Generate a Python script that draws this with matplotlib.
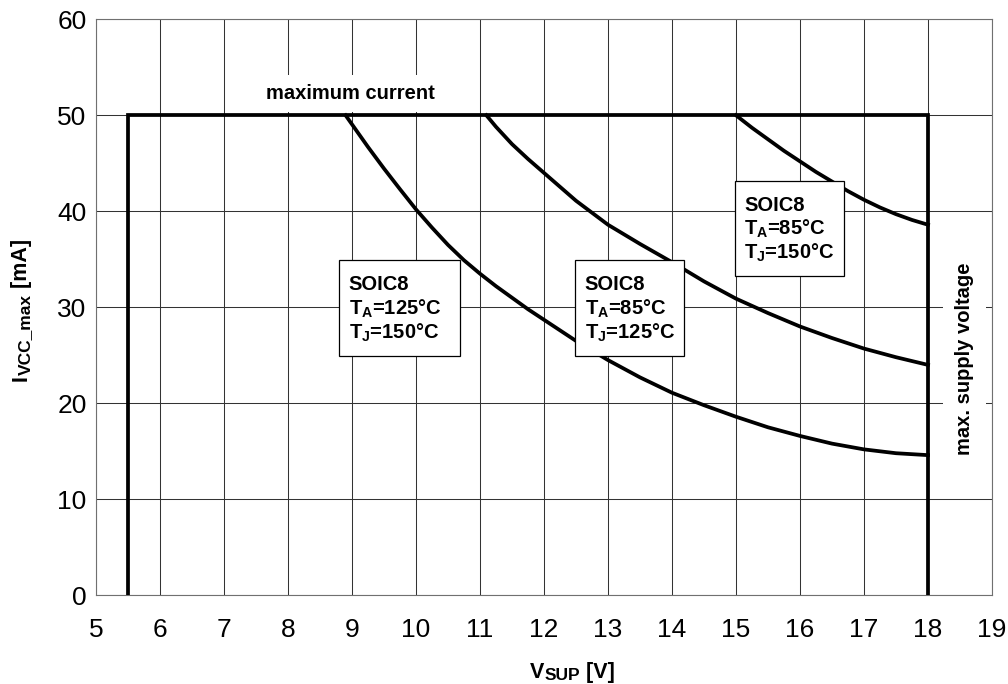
import matplotlib
matplotlib.use("Agg")
import matplotlib.pyplot as plt
from matplotlib.patches import Rectangle
from matplotlib.transforms import IdentityTransform

plt.rcParams['font.family'] = ['Liberation Sans', 'DejaVu Sans']
plt.rcParams['mathtext.fontset'] = 'custom'
plt.rcParams['mathtext.rm'] = 'Liberation Sans'
plt.rcParams['mathtext.bf'] = 'Liberation Sans:bold'

# safe operating envelope
envelope_v = [5.5, 5.5, 18, 18]
envelope_i = [0, 50, 50, 0]

# SOIC8, TA=125C, TJ=150C
curve_a_v = [8.9, 9.25, 9.5, 9.75, 10, 10.25, 10.5, 10.75, 11, 11.25, 11.5, 11.75, 12,
             12.5, 13, 13.5, 14, 14.5, 15, 15.5, 16, 16.5, 17, 17.5, 18]
curve_a_i = [50, 46.7, 44.45, 42.3, 40.2, 38.3, 36.5, 34.9, 33.5, 32.2, 31.0, 29.8, 28.7,
             26.5, 24.5, 22.7, 21.1, 19.8, 18.6, 17.5, 16.6, 15.8, 15.2, 14.8, 14.6]

# SOIC8, TA=85C, TJ=125C
curve_b_v = [11.1, 11.25, 11.5, 11.75, 12, 12.5, 13, 13.5, 14, 14.5, 15, 15.5, 16, 16.5, 17, 17.5, 18]
curve_b_i = [50, 48.8, 47.0, 45.45, 44.0, 41.1, 38.6, 36.6, 34.7, 32.7, 30.9, 29.4, 28.0, 26.8, 25.7, 24.8, 24.0]

# SOIC8, TA=85C, TJ=150C
curve_c_v = [15.0, 15.25, 15.5, 15.75, 16, 16.25, 16.5, 16.75, 17, 17.25, 17.5, 17.75, 18]
curve_c_i = [50, 48.7, 47.5, 46.3, 45.2, 44.1, 43.1, 42.1, 41.2, 40.4, 39.7, 39.1, 38.6]

box_labels = [
    ("SOIC8", "125", "150"),
    ("SOIC8", "85", "125"),
    ("SOIC8", "85", "150"),
]
# box corners (left, bottom, right, top) in data units
box_extents = [
    (8.80, 24.9, 10.69, 34.9),
    (12.49, 24.9, 14.19, 34.9),
    (14.98, 33.3, 16.69, 43.2),
]

x_ticks = list(range(5, 20))
y_ticks = list(range(0, 61, 10))

fig = plt.figure(figsize=(10.08, 6.84), dpi=100)
ax = fig.add_axes([96 / 1008, 1 - 595.3 / 684, 896 / 1008, 576 / 684])

ax.set_xlim(5, 19)
ax.set_ylim(0, 60)
ax.set_xticks(x_ticks)
ax.set_yticks(y_ticks)
ax.tick_params(axis='both', length=0, labelsize=19)
ax.tick_params(axis='x', pad=16)
ax.tick_params(axis='y', pad=6.7)
ax.grid(True, color='#333333', linewidth=0.75, zorder=0)
ax.set_axisbelow(True)
for sp in ax.spines.values():
    sp.set_color('#707070')
    sp.set_linewidth(0.8)

lw = 2.7
ax.plot(envelope_v, envelope_i, color='black', linewidth=lw, zorder=3,
        solid_joinstyle='miter')
ax.plot(curve_a_v, curve_a_i, color='black', linewidth=lw, zorder=3)
ax.plot(curve_b_v, curve_b_i, color='black', linewidth=lw, zorder=3)
ax.plot(curve_c_v, curve_c_i, color='black', linewidth=lw, zorder=3)

# info boxes
px_i = 60 / 576.0  # data units per pixel (y)
px_v = 14 / 896.0  # data units per pixel (x)
fs = 14.5
for (l, b, r, t), (pkg, ta, tj) in zip(box_extents, box_labels):
    ax.add_patch(Rectangle((l, b), r - l, t - b, facecolor='white',
                           edgecolor='black', linewidth=0.9, zorder=4))
    tx = l + 9.3 * px_v
    ax.text(tx, t - 30 * px_i, pkg, fontsize=fs, fontweight='bold',
            va='baseline', ha='left', zorder=5)
    ax.text(tx, t - 54 * px_i, r'T$_\mathbf{A}$=' + ta + '°C', fontsize=fs,
            fontweight='bold', va='baseline', ha='left', zorder=5)
    ax.text(tx, t - 78 * px_i, r'T$_\mathbf{J}$=' + tj + '°C', fontsize=fs,
            fontweight='bold', va='baseline', ha='left', zorder=5)

# "maximum current" label with white backing
ax.add_patch(Rectangle((7.06, 50.3), 3.88, 3.9, facecolor='white',
                       edgecolor='none', zorder=2))
ax.text(8.97, 51.7, 'maximum current', fontsize=fs, fontweight='bold',
        ha='center', va='baseline', zorder=5)

ax.text(18.57, 24.6, 'max. supply voltage', fontsize=fs, fontweight='bold',
        rotation=90, ha='center', va='center', zorder=5,
        bbox=dict(boxstyle='square,pad=0.6', facecolor='white', edgecolor='none'))


# axis labels built piece by piece so the subscripts keep their size
def chain_label(parts, start, base, vertical):
    renderer = fig.canvas.get_renderer()
    pos = start
    for txt, size, shift in parts:
        if vertical:
            t = fig.text(base + shift, pos, txt, fontsize=size, fontweight='bold',
                         rotation=90, rotation_mode='anchor', ha='left',
                         va='baseline', transform=IdentityTransform())
            pos += t.get_window_extent(renderer).height
        else:
            t = fig.text(pos, base - shift, txt, fontsize=size, fontweight='bold',
                         ha='left', va='baseline', transform=IdentityTransform())
            pos += t.get_window_extent(renderer).width


chain_label([('V', 15.5, 0), ('SUP', 12.5, 2), (' [V]', 15.5, 0)],
            start=530, base=684 - 678, vertical=False)
chain_label([('I', 15.5, 0), ('VCC_max', 12.5, 3), (' [mA]', 15.5, 0)],
            start=684 - 381, base=27, vertical=True)

fig.savefig('out.png', dpi=100)
